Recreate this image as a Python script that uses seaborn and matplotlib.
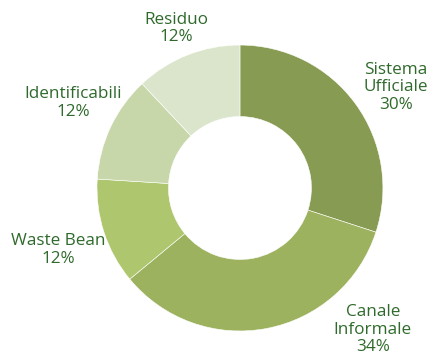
import matplotlib
matplotlib.use("Agg")
import matplotlib.pyplot as plt
import seaborn as sns

# Shares of the flow by channel
categories = ["Sistema\nUfficiale", "Canale\nInformale", "Waste Bean", "Identificabili", "Residuo"]
shares = [30, 34, 12, 12, 12]
colors = ["#889b52", "#9db25f", "#aec66d", "#c7d7a9", "#dbe5cb"]

sns.set_theme(style="white")
plt.rcParams["font.family"] = ["Open Sans", "DejaVu Sans"]

fig = plt.figure(figsize=(4.33, 3.56), dpi=100)
ax = fig.add_axes([0, 0, 1, 1])

wedges, _ = ax.pie(
    shares,
    colors=colors,
    startangle=90,
    counterclock=False,
    radius=1.0,
    wedgeprops=dict(width=0.5, edgecolor="white", linewidth=0.4),
)

# label anchor points (data units, pie radius = 1)
label_pos = [(1.09, 0.705), (0.93, -0.99), (-1.27, -0.435), (-1.165, 0.595), (-0.445, 1.115)]
text_color = "#2f6a2c"
for name, val, (x, y) in zip(categories, shares, label_pos):
    ax.text(x, y, f"{name}\n{val}%", ha="center", va="center",
            fontsize=12.3, color=text_color, linespacing=1.12)

ax.set_xlim(-1.678, 1.350)
ax.set_ylim(-1.175, 1.315)
ax.set_aspect("equal")
ax.axis("off")

fig.savefig("out.png", dpi=100)
